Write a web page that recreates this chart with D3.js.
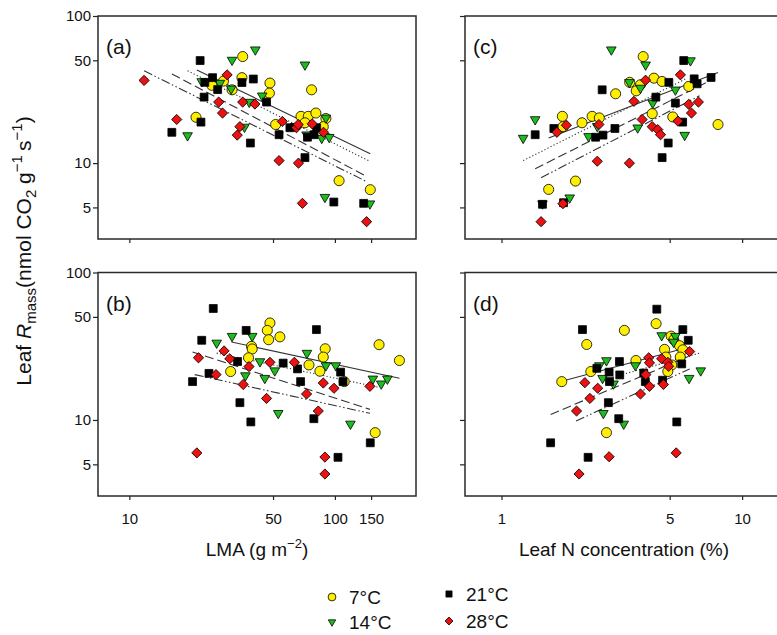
<!DOCTYPE html>
<html>
<head>
<meta charset="utf-8">
<script src="https://cdn.jsdelivr.net/npm/d3@7"></script>
<style>
  body { margin: 0; background: #fff; }
  svg { font-family: "Liberation Sans", Arial, Helvetica, sans-serif; }
</style>
</head>
<body>
<div id="chart"></div>
<script>
// Temperature groups
const temps = ["7°C", "14°C", "21°C", "28°C"];

// Tick values
const lmaTicks = [10, 50, 100, 150];
const nTicks = [1, 5, 10];
const rTicks = [5, 10, 50, 100];

// (a) LMA vs Rmass, [LMA, Rmass]
const a7 = [[35.6,53],[35.3,38.1],[48.3,35.0],[48,29.9],[28.7,36.1],[25.2,33.8],[31.6,31.5],[77,31.5],[21.1,20.5],[68.4,20.8],[74.2,20.8],[80.8,21.9],[90.4,20.1],[51.5,18.3],[71.5,18.8],[87.8,17.7],[104.8,7.6],[148.6,6.6]];
const a14 = [[41,59],[31.6,50.2],[71.5,46.6],[22.5,35.9],[27.6,35],[31.3,32],[44.3,28.7],[38.3,26],[19.2,15.4],[36.3,17.6],[72.8,15.6],[86.3,14.8],[93.8,15],[90.4,20.3],[89.4,5.87],[148,5.3],[63.9,17.8]];
const a21 = [[22.1,49.8],[25.4,38.1],[23.3,35.4],[26.9,31.6],[35.3,35.3],[40.1,37.3],[23.1,28.1],[46.5,26],[22.3,19],[16.1,16.2],[38.8,13.7],[53.5,15.6],[60.4,17.4],[73.5,15],[79.2,15.6],[81.5,17.4],[71.5,10.9],[98.8,5.44],[138,5.33]];
const a28 = [[11.8,36.5],[17,19.8],[29.9,39.8],[27.2,26],[28.4,21.9],[35.6,26],[40.8,25.2],[34.5,17.7],[33.5,15.5],[55.5,19.2],[65,17.4],[66.3,18.3],[77.5,18.5],[88,16.2],[53.5,10.4],[66.5,10],[69.5,5.33],[142.6,4.0]];

// (b) LMA vs Rmass, second campaign
const b7 = [[48.3,45.5],[46.9,40.5],[47.6,35],[54,36.6],[39.3,31.6],[39.6,30.3],[38,26.4],[31.1,21.3],[74.8,23.6],[89.7,30.4],[87.8,26.7],[84.5,21.4],[111,18.2],[164,32.4],[206,25.3],[157,8.2]];
const b14 = [[31.6,37],[26.6,33.3],[39.6,37],[43.2,24.9],[36.7,20],[45.6,19.2],[51,21.6],[73.1,28.4],[90.4,23.4],[101,23.4],[153,19],[168,17.6],[180,19],[53,11.1],[119,9.4]];
const b21 = [[25.6,57],[22.5,34.7],[37,40.5],[24.4,20.7],[20.3,18.2],[33.6,24.9],[56,24.3],[65.8,22.2],[68.1,18.2],[81.3,41],[34.5,13.1],[39,9.7],[79,10.2],[106.6,21.1],[109.5,18.2],[103.5,5.58],[148.6,7.0]];
const b28 = [[21.7,26.4],[28.9,29.4],[30.8,26],[26.4,20.3],[38.2,23],[48.3,24.6],[63.5,24.6],[35.8,17.4],[46.5,14],[72.8,15],[87.8,17.8],[99,16.4],[148,16.9],[83,11.5],[21.3,5.98],[89.4,5.6],[89.4,4.3]];

// (c) leaf N vs Rmass
const c7 = [[3.88,53],[4.30,37.8],[4.65,35.9],[3.78,34.1],[3.63,31],[3.41,35.4],[2.98,29.6],[6.0,33.2],[4.23,21.7],[5.15,20.6],[1.79,20.8],[2.16,18.8],[2.38,20.8],[2.55,20.3],[1.80,17.7],[7.94,18.3],[2.03,7.55],[1.57,6.63]];
const c14 = [[2.86,59],[3.97,46.6],[6.1,49.8],[3.40,35.4],[3.78,32.4],[5.28,31.5],[4.25,25.6],[1.38,19.8],[1.23,14.8],[2.30,15.2],[2.50,17.8],[3.68,17.4],[5.77,15.5],[1.92,5.82],[1.48,5.3]];
const c21 = [[2.62,31.5],[5.72,49.8],[4.96,35.4],[6.32,37.4],[6.5,34.6],[7.43,38.2],[4.38,28.1],[5.28,25.6],[5.66,19],[1.65,17.2],[1.38,15.6],[2.96,17.2],[2.46,15],[2.64,15.5],[4.93,13.7],[4.65,10.9],[1.48,5.25],[1.81,5.38]];
const c28 = [[5.54,39.8],[3.97,36.6],[3.55,26.3],[6.0,25.1],[6.58,26],[6.16,21.9],[3.84,19.8],[5.41,19.3],[4.23,17.7],[4.46,16.9],[4.58,15.6],[1.86,18.1],[1.70,16.2],[2.54,18.3],[2.50,10.3],[3.40,10],[1.80,5.3],[1.46,4.0]];

// (d) leaf N vs Rmass, second campaign
const d7 = [[4.39,45],[3.24,40.5],[2.26,32.5],[5.07,37],[5.2,35],[5.49,31.9],[4.76,30.1],[5.67,29.9],[3.62,25.3],[5.53,26.7],[4.82,26.7],[5.1,23.6],[4.91,21.3],[2.35,21.3],[1.78,18.2],[2.73,8.2]];
const d14 = [[4.63,37.4],[5.28,37],[5.19,33.8],[2.73,25.3],[2.55,23.4],[3.6,23.4],[2.63,19.2],[2.92,17.6],[6.73,21.6],[6.02,19.2],[2.65,11.1],[3.22,9.4]];
const d21 = [[4.42,56.4],[2.17,41],[5.67,41],[5.97,34.7],[3.09,24.9],[2.49,22.4],[2.8,21.1],[3.1,20.2],[2.81,18.2],[3.9,20.8],[3.96,18.2],[4.67,18.6],[5.61,24],[2.78,13.1],[3.07,10.2],[5.35,9.7],[1.6,7.0],[2.29,5.58]];
const d28 = [[6.05,29.1],[4.09,26.4],[4.63,26],[4.91,24.6],[4.95,23.1],[4.12,24.4],[3.98,20.3],[4.12,16.9],[4.71,17.4],[3.78,15],[2.22,17.9],[2.51,16.4],[2.33,14],[2.05,11.5],[2.8,5.63],[5.32,5.98],[2.1,4.3]];

// fitted lines per temperature: [x1, y1, x2, y2]
const fitA = [[21.3,43.0,148.6,11.6],[19.2,42.4,148,10.3],[16.1,40.4,141,8.2],[11.8,42.4,141,7.55]];
const fitB = [[31.4,33.8,206,19.2],[26.6,28.4,165,16.6],[20.3,28.9,148,11.8],[20.8,20.3,148,11.1]];
const fitC = [[1.57,14.8,7.94,41.3],[1.23,10.4,5.9,37.8],[1.38,9.16,7.25,35.9],[1.46,7.96,6.65,28.7]];
const fitD = [[1.78,18.3,5.67,30.4],[2.9,19.5,6.7,28.5],[1.6,10.9,5.97,26.9],[2.04,9.84,6.05,22.2]];

// styles per temperature
const fills = ["#ffee00", "#1dbd1d", "#000000", "#ee1111"];
const dashes = [null, "1.2,2.2", "9,4", "9,2.5,1.5,2.5,1.5,2.5"];

const W = 777, H = 635;
const svg = d3.select("#chart").append("svg")
    .attr("width", W)
    .attr("height", H);

// scales
const xLma = d3.scaleLog().domain([7.04, 248]).range([98, 416]);
const xN = d3.scaleLog().domain([0.705, 17.4]).range([465, 800]);
const yTop = d3.scaleLog().domain([3.05, 100]).range([239, 16]);
const yBot = d3.scaleLog().domain([3.05, 100]).range([496, 272.5]);

const panels = [
    {label: "(a)", x: xLma, y: yTop, pts: [a7, a14, a21, a28], fit: fitA, ticks: lmaTicks, xLab: false, yLab: true},
    {label: "(b)", x: xLma, y: yBot, pts: [b7, b14, b21, b28], fit: fitB, ticks: lmaTicks, xLab: true, yLab: true},
    {label: "(c)", x: xN, y: yTop, pts: [c7, c14, c21, c28], fit: fitC, ticks: nTicks, xLab: false, yLab: false},
    {label: "(d)", x: xN, y: yBot, pts: [d7, d14, d21, d28], fit: fitD, ticks: nTicks, xLab: true, yLab: false}
];

// marker shapes
function marker(sel, i, s) {
    const shapes = [
        d3.symbol(d3.symbolCircle, 80 * s),
        d3.symbol(d3.symbolTriangle, 40 * s),
        d3.symbol(d3.symbolSquare, 62 * s),
        d3.symbol(d3.symbolSquare, 52 * s)
    ];
    sel.attr("d", shapes[i])
        .attr("fill", fills[i])
        .attr("stroke", "#000")
        .attr("stroke-width", 0.8);
}
const rot = [0, 180, 0, 45];

panels.forEach(p => {
    const g = svg.append("g");
    const [x0, x1] = p.x.range();
    const [y0, y1] = p.y.range();

    // axes
    const ax = g.append("g")
        .attr("transform", `translate(0,${y0})`)
        .call(d3.axisBottom(p.x).tickValues(p.ticks).tickSize(4).tickPadding(13)
            .tickFormat(p.xLab ? d3.format("d") : ""));
    const ay = g.append("g")
        .attr("transform", `translate(${x0},0)`)
        .call(d3.axisLeft(p.y).tickValues(rTicks).tickSize(5).tickPadding(2)
            .tickFormat(p.yLab ? d3.format("d") : ""));
    [ax, ay].forEach(a => {
        a.select(".domain").remove();
        a.selectAll("line").attr("stroke", "#222").attr("stroke-width", 1.2);
        a.selectAll("text").attr("font-size", 15).attr("fill", "#111")
            .attr("font-family", "'Liberation Sans', Arial, sans-serif");
    });

    // frame
    g.append("rect")
        .attr("x", x0).attr("y", y1)
        .attr("width", x1 - x0).attr("height", y0 - y1)
        .attr("fill", "none").attr("stroke", "#2a2a2a").attr("stroke-width", 1.5);

    // fit lines
    p.fit.forEach((f, i) => {
        g.append("line")
            .attr("x1", p.x(f[0])).attr("y1", p.y(f[1]))
            .attr("x2", p.x(f[2])).attr("y2", p.y(f[3]))
            .attr("stroke", "#333").attr("stroke-width", 1.1)
            .attr("stroke-dasharray", dashes[i]);
    });

    // points
    p.pts.forEach((arr, i) => {
        g.selectAll(null).data(arr).enter().append("path")
            .call(marker, i, 1)
            .attr("transform", d => `translate(${p.x(d[0])},${p.y(d[1])}) rotate(${rot[i]})`);
    });

    g.append("text")
        .attr("x", x0 + 8).attr("y", y1 + 38)
        .attr("font-size", 21).attr("fill", "#111")
        .text(p.label);
});

// axis titles
const xt1 = svg.append("text").attr("x", 257).attr("y", 556)
    .attr("text-anchor", "middle").attr("font-size", 19).attr("fill", "#111");
xt1.append("tspan").text("LMA (g m");
xt1.append("tspan").attr("font-size", 13).attr("dy", -8).text("−2");
xt1.append("tspan").attr("dy", 8).text(")");

svg.append("text").attr("x", 624).attr("y", 556)
    .attr("text-anchor", "middle").attr("font-size", 19).attr("fill", "#111")
    .text("Leaf N concentration (%)");

const yt = svg.append("text")
    .attr("transform", "translate(31,251) rotate(-90)")
    .attr("text-anchor", "middle").attr("font-size", 21).attr("fill", "#111");
yt.append("tspan").text("Leaf ");
yt.append("tspan").attr("font-style", "italic").text("R");
yt.append("tspan").attr("font-size", 15).attr("dy", 5).text("mass");
yt.append("tspan").attr("dy", -5).text("(nmol CO");
yt.append("tspan").attr("font-size", 15).attr("dy", 5).text("2");
yt.append("tspan").attr("dy", -5).text(" g");
yt.append("tspan").attr("font-size", 15).attr("dy", -9).text("−1 ");
yt.append("tspan").attr("dy", 9).text("s");
yt.append("tspan").attr("font-size", 15).attr("dy", -9).text("−1");
yt.append("tspan").attr("dy", 9).text(")");

// legend
const legPos = [[332, 597], [332, 622], [449, 594], [449, 621]];
temps.forEach((t, i) => {
    const [lx, ly] = legPos[i];
    svg.append("path").call(marker, i, 0.6)
        .attr("transform", `translate(${lx},${ly}) rotate(${rot[i]})`);
    svg.append("text").attr("x", lx + 17).attr("y", ly + 7)
        .attr("font-size", 19).attr("fill", "#111").text(t);
});
</script>
</body>
</html>
